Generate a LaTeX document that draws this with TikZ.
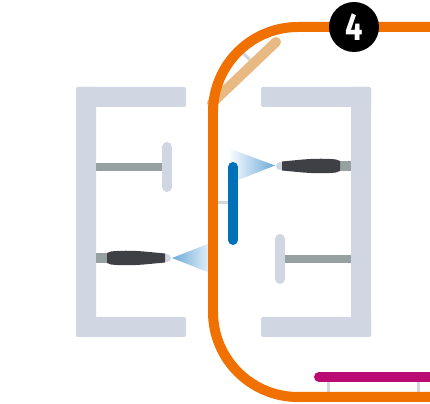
\documentclass[tikz,border=0pt]{standalone}
\usepackage{fontspec}
\newfontfamily\badgefont{Fira Sans}
\definecolor{frame}{HTML}{D0D6E2}
\definecolor{rod}{HTML}{97A1A1}
\definecolor{body}{HTML}{3F4045}
\definecolor{track}{HTML}{F07000}
\definecolor{flap}{HTML}{E8B982}
\definecolor{gate}{HTML}{0070B8}
\definecolor{rail}{HTML}{BC0A74}
\definecolor{jet}{HTML}{6BAAD8}

\begin{document}
\begin{tikzpicture}[
  x=0.02cm, y=-0.02cm,
  wall/.style={fill=frame, rounded corners=0.04cm},
  stem/.style={draw=frame, line width=0.6mm},
  arm/.style={fill=rod},
  paddle/.style={draw=frame, line width=2mm, line cap=round},
  tip/.style={draw=frame, line width=1.6mm, line cap=round},
  bar/.style={line width=2mm, line cap=round},
  badge/.style={circle, fill=black, text=white, minimum size=1cm, inner sep=0pt, font=\badgefont\bfseries\fontsize{22}{22}\selectfont}
]
\useasboundingbox (0,0) rectangle (430,404);

% frames
\fill[wall] (76,87) rectangle (186,107);
\fill[wall] (76,87) rectangle (96,337);
\fill[wall] (76,317) rectangle (186,337);
\fill[wall] (261,87) rectangle (371,107);
\fill[wall] (351,87) rectangle (371,337);
\fill[wall] (261,317) rectangle (371,337);

% paddles
\fill[arm] (96,163) rectangle (164,171);
\draw[paddle] (167,147) -- (167,187);
\fill[arm] (283,255) rectangle (351,263);
\draw[paddle] (280,239) -- (280,279);

% jets
\shade[left color=white, right color=jet] (228,148) -- (275,165.5) -- (228,184) -- cycle;
\shade[left color=jet, right color=white] (172,258) -- (218,240) -- (218,276) -- cycle;

% nozzles
\fill[arm] (340,161) rectangle (351,171);
\draw[tip] (280,166) -- (284,166);
\fill[body] (282,161.5) -- (303,159.5) .. controls (315,158.5) and (328,158.5) .. (336,159.5) -- (340,161)
  -- (340,171) -- (336,172.5) .. controls (328,173.5) and (315,173.5) .. (303,172.5) -- (282,170.5) -- cycle;
\fill[arm] (96,253) rectangle (107,263);
\draw[tip] (163,258) -- (167,258);
\fill[body] (165,253.5) -- (144,251.5) .. controls (132,250.5) and (119,250.5) .. (111,251.5) -- (107,253)
  -- (107,263) -- (111,264.5) .. controls (119,265.5) and (132,265.5) .. (144,264.5) -- (165,262.5) -- cycle;

% links
\draw[stem] (243,53) -- (250,60);
\draw[stem] (215,203) -- (230,203);
\draw[stem] (328.5,380) -- (328.5,394);
\draw[stem] (418.5,380) -- (418.5,394);

% flap, gate, rail
\draw[bar, flap] (212,103) -- (276,42);
\draw[bar, gate] (233,167) -- (233,240);
\draw[bar, rail] (319,377) -- (435,377);

% track
\draw[track, line width=2mm, rounded corners=1.7cm] (430,27) -- (213,27) -- (213,397) -- (430,397);

\node[badge] (four) at (354,27) {\scalebox{0.8}[1]{4}};

\end{tikzpicture}
\end{document}
